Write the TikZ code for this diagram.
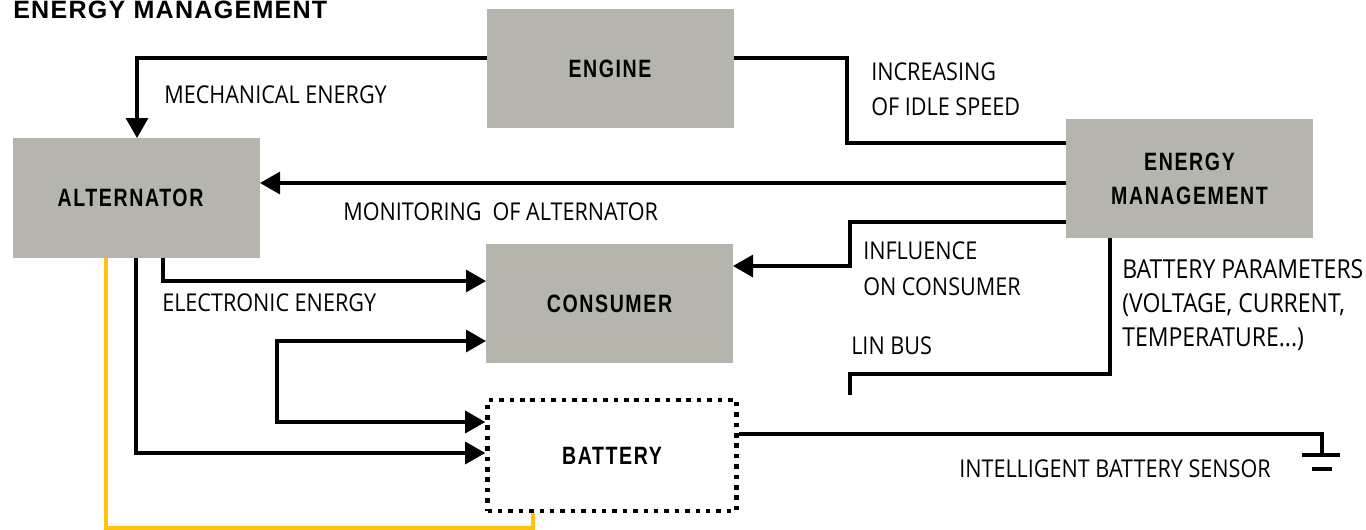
\documentclass[tikz,border=0pt]{standalone}
\usepackage{fontspec}
\usetikzlibrary{arrows.meta}
\newfontfamily\lblfont[FakeStretch=0.88]{Open Sans}
\newfontfamily\boxfont[FakeStretch=0.78,LetterSpace=6.4]{Liberation Sans Bold}
\newfontfamily\headfont[LetterSpace=5]{Liberation Sans Bold}
\definecolor{boxgray}{RGB}{181,181,173}
\definecolor{wireyellow}{RGB}{255,194,14}

\begin{document}
\begin{tikzpicture}[x=0.75pt,y=-0.75pt,
  block/.style={fill=boxgray, draw=none, outer sep=0pt, inner sep=0pt,
    minimum width=185.25pt, minimum height=89.25pt, align=center,
    font=\boxfont\fontsize{18.8}{25.5}\selectfont},
  dotbox/.style={draw=black, line width=3.4pt, dash pattern=on 3.4pt off 4.4pt,
    inner sep=0pt, minimum width=186.75pt, minimum height=83.25pt,
    font=\boxfont\fontsize{18.8}{25.5}\selectfont},
  lbl/.style={anchor=base west, inner sep=0pt,
    font=\lblfont\fontsize{18.4}{26}\selectfont},
  biglbl/.style={anchor=base west, inner sep=0pt,
    font=\lblfont\fontsize{19.6}{26}\selectfont},
  wire/.style={draw=black, line width=2.4pt},
  tip/.tip={Triangle[length=15pt,width=16.5pt]},
  arr/.style={wire, -tip},
  dbl/.style={wire, tip-tip},
  ywire/.style={draw=wireyellow, line width=2.4pt}
]
\useasboundingbox (0,0) rectangle (1366,529);

% title
\node[anchor=base west, inner sep=0pt,
  font=\headfont\fontsize{18.8}{24}\selectfont] (title) at (13,18) {ENERGY MANAGEMENT};

% blocks
\node[block] (engine)     at (610,68.5)    {ENGINE};
\node[block, minimum height=90pt] (alternator) at (136.5,198) {\hspace*{-9pt}ALTERNATOR};
\node[block] (energy)     at (1189.5,178.5) {ENERGY\\MANAGEMENT};
\node[block] (consumer)   at (609.5,303.5) {CONSUMER};
\node[dotbox] (battery)   at (612,455.5)   {BATTERY};

% supply and control connectors
\draw[arr] (engine.west |- 0,58) -| (alternator.north -| 137,0);
\draw[wire] (engine.east |- 0,58) -- (847,58) -- (847,143) -- (energy.west |- 0,143);
\draw[arr] (energy.west |- 0,183) -- (alternator.east |- 0,183);
\draw[arr] (energy.west |- 0,222) -- (850,222) -- (850,266) -- (consumer.east |- 0,266);
\coordinate (linend) at (850,395);
\draw[wire] (energy.south -| 1110,0) -- (1110,374) -- (850,374) -- (linend);
\draw[arr] (alternator.south -| 163,0) -- (163,281) -- (consumer.west |- 0,281);
\draw[arr] (alternator.south -| 136,0) -- (136,453) -- (battery.west |- 0,453);
\draw[dbl] (consumer.west |- 0,341) -- (277,341) -- (277,422) -- (battery.west |- 0,422);

% battery sensor to ground
\coordinate (gnd) at (1322,455);
\draw[wire] (battery.east |- 0,434) -- (1322,434) -- (gnd);
\draw[line width=3pt] (gnd) ++(-20,0) -- ++(38,0);
\draw[line width=3pt] (gnd) ++(-10,14) -- ++(20,0);

% yellow wire
\draw[ywire] (alternator.south -| 106,0) -- (106,528) -- (533,528) -- (battery.south -| 533,0);

% labels
\node[lbl] (mech)  at (164,103) {MECHANICAL ENERGY};
\node[lbl] (incA)  at (871,80)  {INCREASING};
\node[lbl] (incB)  at (871,115) {OF IDLE SPEED};
\node[lbl] (mon)   at (343,220) {MONITORING\hspace{0.45em}OF ALTERNATOR};
\node[lbl] (infA)  at (863,259) {INFLUENCE};
\node[lbl] (infB)  at (863,295) {ON CONSUMER};
\node[lbl] (elec)  at (162,311) {ELECTRONIC ENERGY};
\node[lbl] (lin)   at (851,354) {LIN BUS};
\node[biglbl] (parA) at (1122,278) {BATTERY PARAMETERS};
\node[biglbl] (parB) at (1122,312) {(VOLTAGE, CURRENT,};
\node[biglbl] (parC) at (1122,346) {TEMPERATURE...)};
\node[lbl] (ibs)   at (959,477) {INTELLIGENT BATTERY SENSOR};
\end{tikzpicture}
\end{document}
